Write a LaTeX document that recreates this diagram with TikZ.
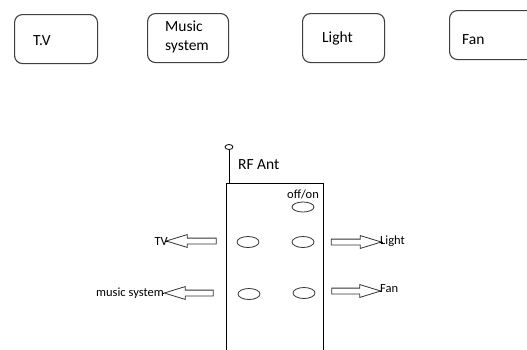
\documentclass[tikz,border=0pt]{standalone}
\usepackage{fontspec}
\setmainfont{Carlito}
\usetikzlibrary{shapes.geometric,shapes.arrows}
\tikzset{
  devbox/.style={draw=black!75, line width=1.1pt, rounded corners=8pt, fill=none},
  boxlabel/.style={anchor=west, inner sep=0pt, font=\fontsize{15.5}{19}\selectfont, align=left},
  smalllabel/.style={inner sep=0pt, font=\fontsize{12.5}{15}\selectfont},
  btn/.style={draw=black!80, ellipse, line width=0.8pt, minimum width=22pt, minimum height=11pt, inner sep=0pt},
  blockarrow/.style={draw=black!80, line width=0.8pt, single arrow, single arrow tip angle=34,
    single arrow head extend=3.5pt, inner sep=2.5pt, minimum height=50pt, anchor=center},
  tipline/.style={draw=black, line width=0.9pt}
}
\begin{document}
\begin{tikzpicture}[x=1pt,y=-1pt]
\clip (0,0) rectangle (527,349);
\fill[white] (0,0) rectangle (527,349);
% top device boxes
\node[devbox, minimum width=83pt, minimum height=49pt, anchor=north west] (tvbox) at (14,14) {};
\node[devbox, minimum width=81pt, minimum height=49pt, anchor=north west] (musicbox) at (147,13) {};
\node[devbox, minimum width=82pt, minimum height=49pt, anchor=north west] (lightbox) at (302,13) {};
\node[devbox, minimum width=90pt, minimum height=49pt, anchor=north west] (fanbox) at (449,10) {};
\node[boxlabel] (tvtext) at (33,41) {T.V};
\node[boxlabel] (musictext) at (165,37) {Music\\system};
\node[boxlabel] (lighttext) at (322,38) {Light};
\node[boxlabel] (fantext) at (462,40) {Fan};
% remote
\draw[line width=0.9pt] (226,360) -- (226,183) -- (323,183) -- (323,360);
\coordinate (anttop) at (229,149.5);
\coordinate (antbase) at (229,183);
\draw[line width=0.9pt] (antbase) -- (anttop);
\node[draw, ellipse, line width=0.8pt, minimum width=8pt, minimum height=5pt, inner sep=0pt] (antknob) at (229,147) {};
\node[anchor=west, inner sep=0pt, font=\fontsize{15.5}{19}\selectfont] (rfant) at (238,165) {RF Ant};
\node[anchor=west, smalllabel] (offon) at (287,194) {off/on};
\node[btn, minimum height=10pt] (bpower) at (303,207) {};
\node[btn] (btv) at (248,242) {};
\node[btn] (blight) at (303,242) {};
\node[btn] (bmusic) at (249,294) {};
\node[btn] (bfan) at (304,293) {};
% arrows
\node[blockarrow, shape border rotate=180] (atv) at (196,241) {};
\node[blockarrow] (alight) at (351.5,242) {};
\node[blockarrow, shape border rotate=180, minimum height=49pt] (amusic) at (193.5,293) {};
\node[blockarrow, minimum height=49pt] (afan) at (351.5,291) {};
% labels
\node[smalllabel, anchor=east] (ltv) at (168,241) {TV};
\node[smalllabel, anchor=west] (llight) at (380,241) {Light};
\node[smalllabel, anchor=east] (lmusic) at (164,293) {music system};
\node[smalllabel, anchor=west] (lfan) at (380,289) {Fan};
\draw[tipline] (atv.tip) -- (ltv.east |- atv.tip);
\draw[tipline] (alight.tip) -- (llight.west |- alight.tip);
\draw[tipline] (amusic.tip) -- (lmusic.east |- amusic.tip);
\draw[tipline] (afan.tip) -- (lfan.west |- afan.tip);
\end{tikzpicture}
\end{document}
